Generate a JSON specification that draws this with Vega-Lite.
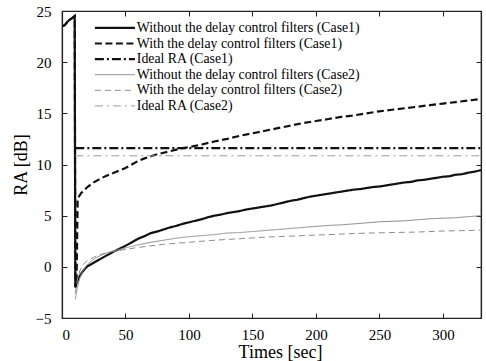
{
  "$schema": "https://vega.github.io/schema/vega-lite/v6.json",
  "width": 419,
  "height": 307,
  "autosize": {"type": "none"},
  "padding": {"left": 62, "top": 11, "right": 5, "bottom": 43},
  "background": "white",
  "config": {
    "font": "Liberation Serif",
    "view": {"stroke": "#222", "strokeWidth": 1.2},
    "axis": {"grid": false, "domain": true, "domainColor": "#222", "domainWidth": 1.2, "tickColor": "#222", "tickWidth": 1, "tickSize": -5, "labelFont": "Liberation Serif", "labelFontSize": 15, "labelColor": "#000", "titleFont": "Liberation Serif", "titleFontSize": 18, "titleFontWeight": "normal", "titleColor": "#000"},
    "legend": {"labelFont": "Liberation Serif"}
  },
  "data": {"values": [
    {"s":"a","t":0,"v":23.5},{"s":"a","t":2,"v":23.6},{"s":"a","t":4,"v":23.9},{"s":"a","t":6,"v":24.15},{"s":"a","t":8,"v":24.3},{"s":"a","t":10,"v":24.5},{"s":"a","t":10.5,"v":-2.0},{"s":"a","t":12,"v":-1.4},{"s":"a","t":14,"v":-0.9},{"s":"a","t":16,"v":-0.5},{"s":"a","t":18,"v":-0.2},{"s":"a","t":20,"v":0.05},{"s":"a","t":25,"v":0.4},{"s":"a","t":30,"v":0.75},{"s":"a","t":35,"v":1.1},{"s":"a","t":40,"v":1.45},{"s":"a","t":45,"v":1.75},{"s":"a","t":50,"v":2.05},{"s":"a","t":55,"v":2.4},{"s":"a","t":60,"v":2.75},{"s":"a","t":65,"v":3.0},{"s":"a","t":70,"v":3.3},{"s":"a","t":75,"v":3.45},{"s":"a","t":80,"v":3.65},{"s":"a","t":85,"v":3.85},{"s":"a","t":90,"v":4.0},{"s":"a","t":95,"v":4.2},{"s":"a","t":100,"v":4.35},{"s":"a","t":105,"v":4.5},{"s":"a","t":110,"v":4.65},{"s":"a","t":115,"v":4.85},{"s":"a","t":120,"v":5.0},{"s":"a","t":125,"v":5.1},{"s":"a","t":130,"v":5.25},{"s":"a","t":135,"v":5.35},{"s":"a","t":140,"v":5.45},{"s":"a","t":145,"v":5.6},{"s":"a","t":150,"v":5.7},{"s":"a","t":155,"v":5.8},{"s":"a","t":160,"v":5.9},{"s":"a","t":165,"v":6.0},{"s":"a","t":170,"v":6.15},{"s":"a","t":175,"v":6.3},{"s":"a","t":180,"v":6.45},{"s":"a","t":185,"v":6.55},{"s":"a","t":190,"v":6.7},{"s":"a","t":195,"v":6.85},{"s":"a","t":200,"v":6.95},{"s":"a","t":205,"v":7.05},{"s":"a","t":210,"v":7.15},{"s":"a","t":215,"v":7.25},{"s":"a","t":220,"v":7.35},{"s":"a","t":225,"v":7.45},{"s":"a","t":230,"v":7.55},{"s":"a","t":235,"v":7.6},{"s":"a","t":240,"v":7.7},{"s":"a","t":245,"v":7.8},{"s":"a","t":250,"v":7.85},{"s":"a","t":255,"v":7.95},{"s":"a","t":260,"v":8.05},{"s":"a","t":265,"v":8.15},{"s":"a","t":270,"v":8.25},{"s":"a","t":275,"v":8.3},{"s":"a","t":280,"v":8.45},{"s":"a","t":285,"v":8.5},{"s":"a","t":290,"v":8.6},{"s":"a","t":295,"v":8.7},{"s":"a","t":300,"v":8.8},{"s":"a","t":305,"v":8.85},{"s":"a","t":310,"v":9.0},{"s":"a","t":315,"v":9.05},{"s":"a","t":320,"v":9.2},{"s":"a","t":325,"v":9.3},{"s":"a","t":330,"v":9.45},
    {"s":"b","t":0,"v":23.5},{"s":"b","t":2,"v":23.6},{"s":"b","t":4,"v":23.9},{"s":"b","t":6,"v":24.15},{"s":"b","t":8,"v":24.3},{"s":"b","t":10,"v":24.5},{"s":"b","t":10.5,"v":-2.0},{"s":"b","t":11.5,"v":-1.0},{"s":"b","t":12.3,"v":6.4},{"s":"b","t":13,"v":6.8},{"s":"b","t":15,"v":7.2},{"s":"b","t":20,"v":7.8},{"s":"b","t":25,"v":8.25},{"s":"b","t":30,"v":8.6},{"s":"b","t":35,"v":8.9},{"s":"b","t":40,"v":9.15},{"s":"b","t":45,"v":9.4},{"s":"b","t":50,"v":9.65},{"s":"b","t":55,"v":10.0},{"s":"b","t":60,"v":10.35},{"s":"b","t":65,"v":10.6},{"s":"b","t":70,"v":10.8},{"s":"b","t":75,"v":11.0},{"s":"b","t":80,"v":11.15},{"s":"b","t":85,"v":11.3},{"s":"b","t":90,"v":11.45},{"s":"b","t":95,"v":11.6},{"s":"b","t":100,"v":11.7},{"s":"b","t":110,"v":11.95},{"s":"b","t":120,"v":12.25},{"s":"b","t":130,"v":12.5},{"s":"b","t":140,"v":12.8},{"s":"b","t":150,"v":13.05},{"s":"b","t":160,"v":13.3},{"s":"b","t":170,"v":13.55},{"s":"b","t":180,"v":13.8},{"s":"b","t":190,"v":14.05},{"s":"b","t":200,"v":14.25},{"s":"b","t":210,"v":14.45},{"s":"b","t":220,"v":14.65},{"s":"b","t":230,"v":14.8},{"s":"b","t":240,"v":15.0},{"s":"b","t":250,"v":15.2},{"s":"b","t":260,"v":15.35},{"s":"b","t":270,"v":15.5},{"s":"b","t":280,"v":15.65},{"s":"b","t":290,"v":15.8},{"s":"b","t":300,"v":15.95},{"s":"b","t":310,"v":16.1},{"s":"b","t":320,"v":16.25},{"s":"b","t":330,"v":16.4},
    {"s":"c","t":10.5,"v":11.6},{"s":"c","t":330,"v":11.6},
    {"s":"d","t":10.5,"v":-3.2},{"s":"d","t":12,"v":-2.1},{"s":"d","t":14,"v":-1.1},{"s":"d","t":16,"v":-0.5},{"s":"d","t":18,"v":-0.1},{"s":"d","t":20,"v":0.25},{"s":"d","t":25,"v":0.75},{"s":"d","t":30,"v":1.1},{"s":"d","t":35,"v":1.35},{"s":"d","t":40,"v":1.55},{"s":"d","t":45,"v":1.7},{"s":"d","t":50,"v":1.85},{"s":"d","t":60,"v":2.15},{"s":"d","t":70,"v":2.4},{"s":"d","t":80,"v":2.6},{"s":"d","t":90,"v":2.8},{"s":"d","t":100,"v":2.95},{"s":"d","t":110,"v":3.05},{"s":"d","t":120,"v":3.15},{"s":"d","t":130,"v":3.3},{"s":"d","t":140,"v":3.35},{"s":"d","t":150,"v":3.45},{"s":"d","t":160,"v":3.55},{"s":"d","t":170,"v":3.65},{"s":"d","t":180,"v":3.75},{"s":"d","t":190,"v":3.85},{"s":"d","t":200,"v":3.95},{"s":"d","t":210,"v":4.05},{"s":"d","t":220,"v":4.1},{"s":"d","t":230,"v":4.2},{"s":"d","t":240,"v":4.3},{"s":"d","t":250,"v":4.4},{"s":"d","t":260,"v":4.45},{"s":"d","t":270,"v":4.5},{"s":"d","t":280,"v":4.6},{"s":"d","t":290,"v":4.7},{"s":"d","t":300,"v":4.75},{"s":"d","t":310,"v":4.8},{"s":"d","t":320,"v":4.9},{"s":"d","t":330,"v":5.0},
    {"s":"e","t":10.5,"v":-2.6},{"s":"e","t":12,"v":-1.3},{"s":"e","t":14,"v":-0.4},{"s":"e","t":16,"v":0.1},{"s":"e","t":18,"v":0.4},{"s":"e","t":20,"v":0.6},{"s":"e","t":25,"v":0.95},{"s":"e","t":30,"v":1.2},{"s":"e","t":40,"v":1.5},{"s":"e","t":50,"v":1.7},{"s":"e","t":60,"v":1.9},{"s":"e","t":70,"v":2.05},{"s":"e","t":80,"v":2.2},{"s":"e","t":90,"v":2.3},{"s":"e","t":100,"v":2.4},{"s":"e","t":120,"v":2.6},{"s":"e","t":140,"v":2.75},{"s":"e","t":160,"v":2.9},{"s":"e","t":180,"v":3.0},{"s":"e","t":200,"v":3.1},{"s":"e","t":220,"v":3.2},{"s":"e","t":240,"v":3.3},{"s":"e","t":260,"v":3.35},{"s":"e","t":280,"v":3.4},{"s":"e","t":300,"v":3.5},{"s":"e","t":320,"v":3.55},{"s":"e","t":330,"v":3.6},
    {"s":"f","t":10.5,"v":10.85},{"s":"f","t":330,"v":10.85}
  ]},
  "layer": [
    {
      "mark": {"type": "line", "clip": true},
      "encoding": {
        "x": {"field": "t", "type": "quantitative", "scale": {"domain": [0, 330], "nice": false, "zero": false}, "axis": {"orient": "bottom", "values": [0, 50, 100, 150, 200, 250, 300], "title": "Times [sec]", "labelPadding": 14, "labelFont": "Liberation Serif", "labelFontSize": 15, "titleY": 25, "titleX": 218, "encode": {"labels": {"update": {"font": {"value": "Liberation Serif"}}}}}},
        "y": {"field": "v", "type": "quantitative", "scale": {"domain": [-5, 25], "nice": false}, "axis": {"orient": "left", "values": [-5, 0, 5, 10, 15, 20, 25], "title": "RA [dB]", "labelPadding": 16, "labelFont": "Liberation Serif", "labelFontSize": 15, "titleX": -32, "encode": {"labels": {"update": {"font": {"value": "Liberation Serif"}}}}}},
        "color": {"field": "s", "type": "nominal", "scale": {"domain": ["a", "b", "c", "d", "e", "f"], "range": ["#111111", "#111111", "#111111", "#8c8c8c", "#8c8c8c", "#9a9a9a"]},
          "legend": {"title": null, "orient": "none", "legendX": 46, "legendY": 10, "symbolType": "M-4,0H4", "symbolSize": 100, "labelFontSize": 13.8, "labelFont": "Liberation Serif", "labelColor": "#000", "labelOffset": 15, "labelLimit": 400, "padding": 0, "rowPadding": 0.6,
            "labelExpr": "datum.value == 'a' ? 'Without the delay control filters (Case1)' : datum.value == 'b' ? 'With the delay control filters (Case1)' : datum.value == 'c' ? 'Ideal RA (Case1)' : datum.value == 'd' ? 'Without the delay control filters (Case2)' : datum.value == 'e' ? 'With the delay control filters (Case2)' : 'Ideal RA (Case2)'"}},
        "strokeDash": {"field": "s", "type": "nominal", "scale": {"domain": ["a", "b", "c", "d", "e", "f"], "range": [[1, 0], [7, 3.5], [9, 3, 2, 3], [1, 0], [6, 4], [8, 4, 2, 4]]}},
        "strokeWidth": {"field": "s", "type": "nominal", "scale": {"type": "ordinal", "domain": ["a", "b", "c", "d", "e", "f"], "range": [2.2, 2.2, 2.2, 1, 1, 1]}}
      }
    },
    {
      "mark": {"type": "point", "opacity": 0},
      "encoding": {
        "x": {"field": "t", "type": "quantitative", "scale": {"domain": [0, 330], "nice": false, "zero": false}, "axis": {"orient": "top", "values": [0, 50, 100, 150, 200, 250, 300], "labels": false, "title": null}},
        "y": {"field": "v", "type": "quantitative", "scale": {"domain": [-5, 25], "nice": false}, "axis": {"orient": "right", "values": [-5, 0, 5, 10, 15, 20, 25], "labels": false, "title": null}}
      }
    }
  ],
  "resolve": {"axis": {"x": "independent", "y": "independent"}}
}
